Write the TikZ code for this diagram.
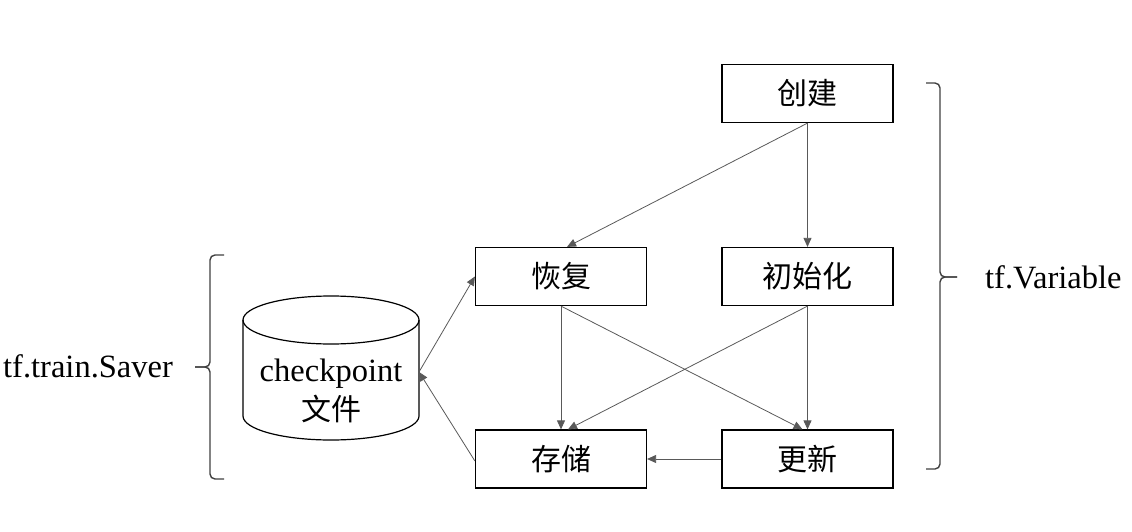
\documentclass[tikz,border=0pt]{standalone}
\usepackage{fontspec}
\setmainfont{Liberation Serif}
\newfontfamily\cjk{Noto Sans CJK SC}
\usetikzlibrary{arrows.meta}
\begin{document}
\begin{tikzpicture}[x=1pt,y=-1pt,
  box/.style={draw=black,line width=1.2pt,minimum width=171pt,minimum height=58pt,inner sep=0pt,font=\cjk\fontsize{30}{32}\selectfont},
  conn/.style={draw=black!65,line width=0.8pt,-{Triangle[length=9pt,width=8pt]}},
  brace/.style={draw=black!75,line width=1.4pt,rounded corners=5pt},
  lbl/.style={font=\fontsize{32.5}{34}\selectfont,inner sep=0pt}]
\useasboundingbox (0,0) rectangle (1132,532);
% boxes
\node[box] (create) at (807.5,93.5) {创建};
\node[box] (restore) at (561,276.5) {恢复};
\node[box] (init) at (807.5,276.5) {初始化};
\node[box] (save) at (561,459) {存储};
\node[box] (update) at (807.5,459) {更新};
% cylinder
\draw[line width=1.2pt] (331,320) ellipse [x radius=88, y radius=24];
\draw[line width=1.2pt] (243,320) -- (243,416) arc[start angle=180,end angle=0,x radius=88,y radius=24] -- (419,320);
\coordinate (cylE) at (419,372);
\node[lbl,anchor=base] (ckpt) at (331,381) {checkpoint};
\node[lbl,font=\cjk\fontsize{30}{32}\selectfont] (file) at (331,409) {文件};
% connectors
\draw[conn] (create.south) -- ([xshift=6pt]restore.north);
\draw[conn] (create.south) -- (init.north);
\draw[conn] (restore.south) -- (save.north);
\draw[conn] (restore.south) -- ([xshift=-5pt]update.north);
\draw[conn] (init.south) -- ([xshift=7pt]save.north);
\draw[conn] (init.south) -- (update.north);
\draw[conn] (update.west) -- (save.east);
\draw[conn] ([yshift=-2pt]save.west) -- (cylE);
\draw[conn] (cylE) -- (restore.west);
% braces
\draw[brace] (224,255) -- (210,255) -- (210,367) -- (195,367);
\draw[brace] (195,367) -- (210,367) -- (210,479) -- (224,479);
\draw[brace] (926,83) -- (940,83) -- (940,277) -- (957,277);
\draw[brace] (957,277) -- (940,277) -- (940,469) -- (926,469);
% labels
\node[lbl,anchor=base west] (saver) at (3,377) {tf.train.Saver};
\node[lbl,anchor=base west] (var) at (985,288) {tf.Variable};
\end{tikzpicture}
\end{document}
